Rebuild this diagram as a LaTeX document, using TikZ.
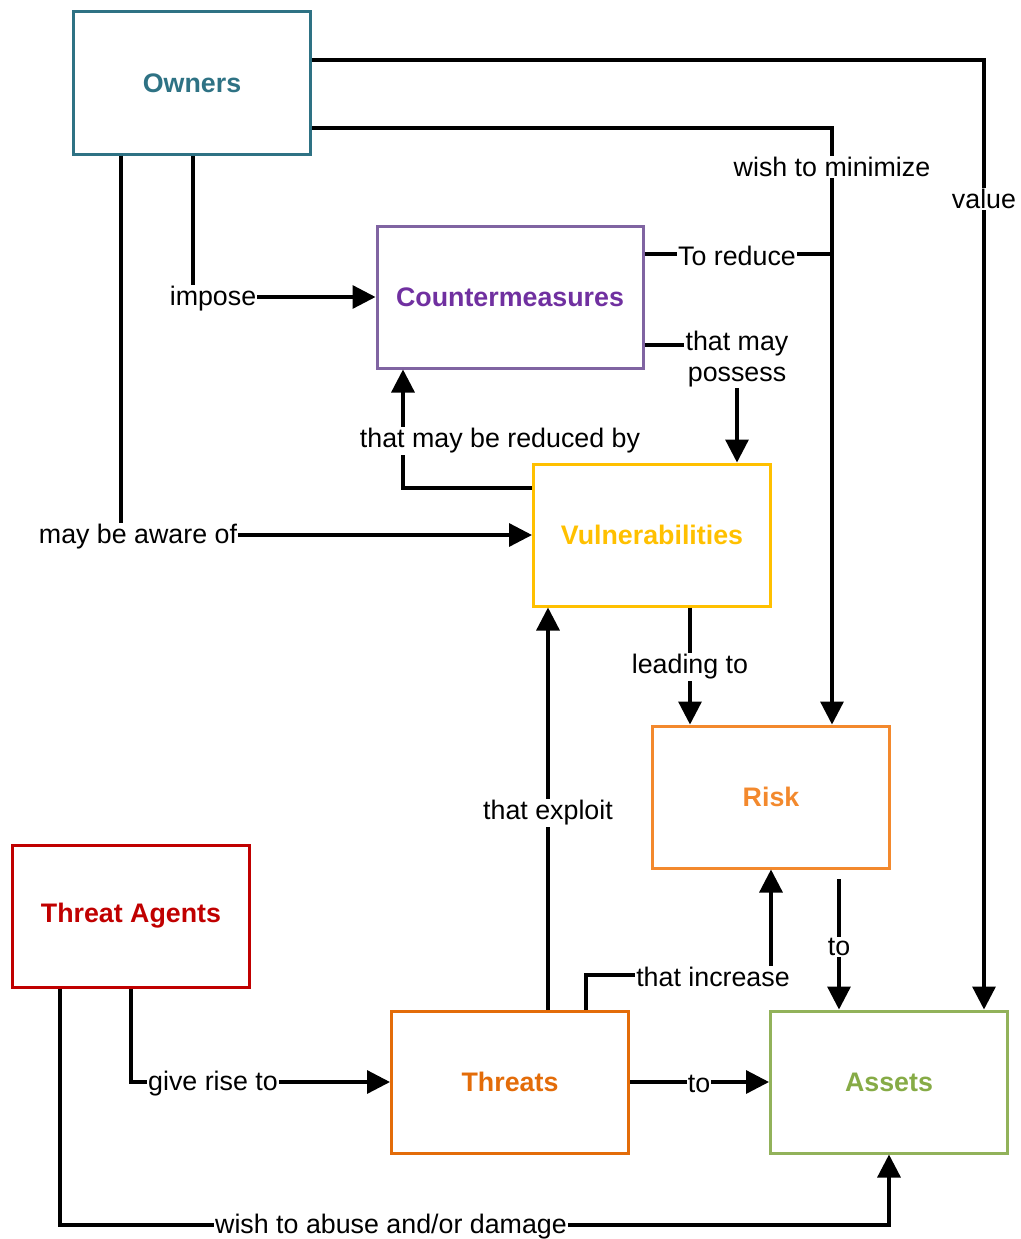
\documentclass[tikz,border=0pt]{standalone}
\usepackage{fontspec}
\setmainfont{Liberation Sans}
\usetikzlibrary{arrows.meta}

\definecolor{ownc}{RGB}{46,114,132}
\definecolor{cmline}{RGB}{128,100,162}
\definecolor{cmtext}{RGB}{112,48,160}
\definecolor{vulc}{RGB}{255,192,0}
\definecolor{riskc}{RGB}{243,137,45}
\definecolor{tac}{RGB}{192,0,0}
\definecolor{thrc}{RGB}{227,108,9}
\definecolor{assline}{RGB}{146,178,90}
\definecolor{asstext}{RGB}{134,171,70}

\tikzset{
  box/.style={draw, line width=3pt, minimum width=237pt, minimum height=142pt,
    inner sep=0pt, font=\bfseries\fontsize{26.8}{31}\selectfont},
  lbl/.style={fill=white, inner sep=1.2pt, align=center, yshift=-2pt,
    font=\fontsize{26.8}{31}\selectfont},
  conn/.style={line width=3.3pt},
  arr/.style={conn, -{Triangle[length=23pt,width=23pt]}}
}

\begin{document}
\begin{tikzpicture}[x=1pt,y=-1pt]
\useasboundingbox (0,0) rectangle (1020,1239);

% entities
\node[box, draw=ownc, text=ownc] (owners) at (192,83) {Owners};
\node[box, draw=cmline, text=cmtext, minimum width=266pt] (counter) at (510,297) {Countermeasures};
\node[box, draw=vulc, text=vulc] (vuln) at (652,535) {Vulnerabilities};
\node[box, draw=riskc, text=riskc] (risk) at (771,797) {Risk};
\node[box, draw=tac, text=tac] (agents) at (131,916) {Threat Agents};
\node[box, draw=thrc, text=thrc] (threats) at (510,1082) {Threats};
\node[box, draw=assline, text=asstext] (assets) at (889,1082) {Assets};

\coordinate (join) at (832,254);
\coordinate (riskout) at (839,879);

% relations
\draw[arr] (owners.east |- 0,60) -| (assets.north -| 984,0);
\draw[arr] (owners.east |- 0,128) -| (risk.north -| 832,0);
\draw[arr] (owners.south -| 193,0) |- (counter.west |- 0,297);
\draw[arr] (owners.south -| 121,0) |- (vuln.west |- 0,535);
\draw[conn] (counter.east |- 0,254) -- (join);
\draw[arr] (counter.east |- 0,345) -| (vuln.north -| 737,0);
\draw[arr] (vuln.west |- 0,488) -| (counter.south -| 403,0);
\draw[arr] (vuln.south -| 690,0) -- (risk.north -| 690,0);
\draw[arr] (threats.north -| 548,0) -- (vuln.south -| 548,0);
\draw[arr] (threats.north -| 586,0) |- (771,975) -- (risk.south);
\draw[arr] (riskout) -- (assets.north -| 839,0);
\draw[arr] (agents.south) |- (threats.west);
\draw[arr] (threats.east) -- (assets.west);
\draw[arr] (agents.south -| 60,0) |- (assets.south |- 0,1225) -- (assets.south);

% relation labels
\node[lbl] (lvalue) at (984,197) {value};
\node[lbl] (lmin) at (832,165) {wish to minimize};
\node[lbl] (limpose) at (213,297) {impose};
\node[lbl] (laware) at (138,535) {may be aware of};
\node[lbl] (lreduce) at (737,254) {To reduce};
\node[lbl] (lpossess) at (737,357) {that may\\possess};
\node[lbl] (lreduced) at (500,439) {that may be reduced by};
\node[lbl] (lleading) at (690,665) {leading to};
\node[lbl] (lexploit) at (548,811) {that exploit};
\node[lbl] (lincrease) at (713,975) {that increase};
\node[lbl] (lto1) at (839,945) {to};
\node[lbl] (lrise) at (213,1082) {give rise to};
\node[lbl] (lto2) at (699,1082) {to};
\node[lbl] (labuse) at (391,1225) {wish to abuse and/or damage};
\end{tikzpicture}
\end{document}
